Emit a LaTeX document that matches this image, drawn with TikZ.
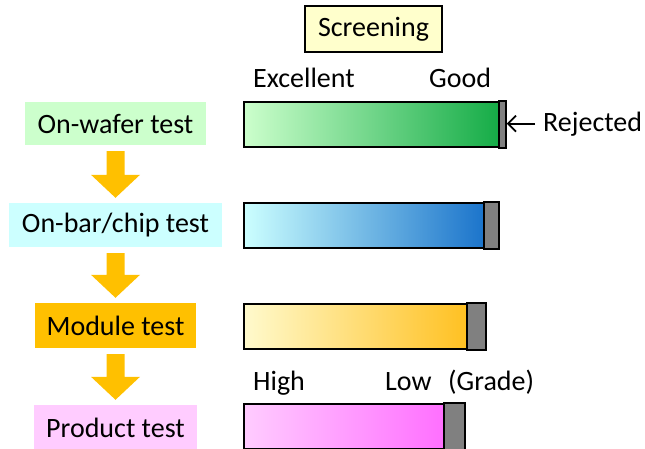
\documentclass[tikz,border=0pt]{standalone}
\usepackage{fontspec}
\setmainfont{Carlito}
\usepackage{tikz}
\usetikzlibrary{calc,arrows.meta}

\definecolor{waferfill}{RGB}{204,255,204}
\definecolor{chipfill}{RGB}{204,255,255}
\definecolor{modulefill}{RGB}{255,192,0}
\definecolor{productfill}{RGB}{255,204,255}
\definecolor{screenfill}{RGB}{255,255,204}
\definecolor{greenend}{RGB}{17,170,68}
\definecolor{blueend}{RGB}{17,108,200}
\definecolor{orangestart}{RGB}{255,250,205}
\definecolor{orangeend}{RGB}{255,188,20}
\definecolor{pinkend}{RGB}{255,102,255}
\definecolor{rejgray}{RGB}{128,128,128}

\tikzset{
  testbox/.style={inner sep=0pt, text=black},
  screenbox/.style={draw=black, line width=1.8pt, fill=screenfill, inner sep=0pt},
  bar/.style={draw=black, line width=1.8pt, anchor=north west, minimum height=45pt, inner sep=0pt},
  rejpart/.style={draw=black, line width=1.8pt, fill=rejgray},
  flowarrow/.style={fill=modulefill},
  lbl/.style={anchor=base west, inner sep=0pt},
  rejarrow/.style={line width=1.7pt, -{Straight Barb[length=8pt,width=16pt]}}
}

\begin{document}
\begin{tikzpicture}[x=1pt, y=-1pt, font=\fontsize{28}{33}\selectfont]
  \useasboundingbox (0,0) rectangle (645,448);

  % test stages
  \node[testbox, fill=waferfill, minimum width=181pt, minimum height=43pt] (wafer) at (115.5,123.5) {On-wafer test};
  \node[testbox, fill=chipfill, minimum width=213pt, minimum height=44pt] (chip) at (115.5,225) {On-bar/chip test};
  \node[testbox, fill=modulefill, minimum width=161pt, minimum height=45pt] (module) at (115.5,325.5) {Module test};
  \node[testbox, fill=productfill, minimum width=163pt, minimum height=46pt] (product) at (115.5,428) {Product test};

  % block arrows between stages
  \foreach \a/\b in {wafer/chip, chip/module, module/product} {
    \path ([yshift=-6pt]\a.south) coordinate (top) ([yshift=5pt]\b.north) coordinate (tip);
    \fill[flowarrow] ($(top)+(-9,0)$) -- ($(top)+(9,0)$) -- ($(tip)+(9,-23)$) -- ($(tip)+(24.5,-23)$)
      -- (tip) -- ($(tip)+(-24.5,-23)$) -- ($(tip)+(-9,-23)$) -- cycle;
  }

  % screening
  \node[screenbox, minimum width=137pt, minimum height=46pt] (screening) at (373.5,29) {Screening};
  \node[lbl] (excellent) at (253,87) {Excellent};
  \node[lbl] (good) at (429,87) {Good};

  % bars
  \node[bar, left color=waferfill, right color=greenend, minimum width=261pt] (bar1) at (243,101) {};
  \draw[rejpart] ([xshift=-7pt]bar1.north east) rectangle (bar1.south east);
  \node[bar, left color=chipfill, right color=blueend, minimum width=254pt] (bar2) at (243,202) {};
  \draw[rejpart] ([xshift=-15pt]bar2.north east) rectangle (bar2.south east);
  \node[bar, left color=orangestart, right color=orangeend, minimum width=241pt] (bar3) at (243,303) {};
  \draw[rejpart] ([xshift=-19pt]bar3.north east) rectangle (bar3.south east);
  \node[bar, left color=productfill, right color=pinkend, minimum width=220pt] (bar4) at (243,403) {};
  \draw[rejpart] ([xshift=-21pt]bar4.north east) rectangle (bar4.south east);

  \node[lbl] (rejected) at (543,131) {Rejected};
  \draw[rejarrow, shorten <=8pt, shorten >=1pt] (rejected.west) -- (rejected.west -| bar1.east);

  \node[lbl] (high) at (253,390) {High};
  \node[lbl] (low) at (385,390) {Low};
  \node[lbl] (grade) at (448,390) {(Grade)};
\end{tikzpicture}
\end{document}
